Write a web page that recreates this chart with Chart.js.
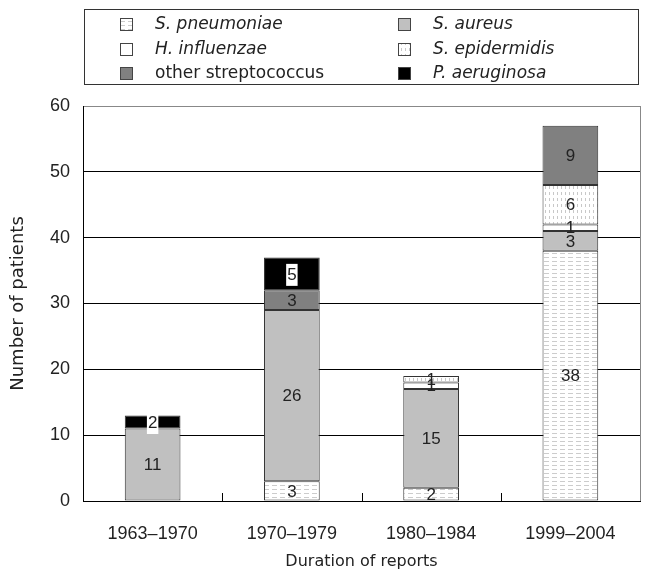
<!DOCTYPE html>
<html>
<head>
<meta charset="utf-8">
<script src="https://cdn.jsdelivr.net/npm/chart.js@4/dist/chart.umd.min.js"></script>
<style>
  html,body{margin:0;padding:0;background:#fff;}
  #wrap{width:648px;height:571px;position:relative;}
</style>
</head>
<body>
<div id="wrap"><canvas id="c" width="648" height="571"></canvas></div>
<script>
// ---- data ----
const categories = ['1963\u20131970', '1970\u20131979', '1980\u20131984', '1999\u20132004'];
const sPneumoniae = [0, 3, 2, 38];
const sAureus = [11, 26, 15, 3];
const hInfluenzae = [0, 0, 1, 1];
const sEpidermidis = [0, 0, 1, 6];
const otherStrep = [0, 3, 0, 9];
const pAeruginosa = [2, 5, 0, 0];
const seriesNames = ['S. pneumoniae', 'S. aureus', 'H. influenzae', 'S. epidermidis', 'other streptococcus', 'P. aeruginosa'];
const italicNames = [true, true, true, true, false, true];
const yTicks = [0, 10, 20, 30, 40, 50, 60];

// ---- patterns ----
function makePattern(w, h, draw) {
  const cv = document.createElement('canvas');
  cv.width = w; cv.height = h;
  const g = cv.getContext('2d');
  g.fillStyle = '#ffffff';
  g.fillRect(0, 0, w, h);
  draw(g);
  return g.createPattern(cv, 'repeat');
}
const ctx0 = document.getElementById('c').getContext('2d');
const hDash = makePattern(8, 4, g => { g.fillStyle = '#cccccc'; g.fillRect(0, 1, 5, 1); });
const vDash = makePattern(4, 6, g => { g.fillStyle = '#c8c8c8'; g.fillRect(1, 0, 1, 3); });

const seriesValues = [sPneumoniae, sAureus, hInfluenzae, sEpidermidis, otherStrep, pAeruginosa];
const seriesFill = [hDash, '#c0c0c0', '#ffffff', vDash, '#808080', '#000000'];

const TEXTFONT = "'DejaVu Sans', sans-serif";
const NUMFONT = "'Liberation Sans', Arial, sans-serif";

const datasets = seriesNames.map((n, i) => ({
  label: n,
  data: seriesValues[i],
  backgroundColor: seriesFill[i],
  borderColor: '#333333',
  borderWidth: 1,
  borderSkipped: false,
  categoryPercentage: 1.0,
  barPercentage: 0.4
}));

const legendPlugin = {
  id: 'boxLegend',
  afterDraw(chart) {
    const c = chart.ctx;
    c.save();
    c.strokeStyle = '#333';
    c.lineWidth = 1;
    c.strokeRect(84.5, 9.5, 554, 75);
    const colX = [120, 398];
    const textX = [155, 433];
    const rowY = [24, 49, 73];
    chart.data.datasets.forEach((ds, i) => {
      const col = i % 2, row = Math.floor(i / 2);
      const mx = colX[col], my = rowY[row];
      c.fillStyle = ds.backgroundColor;
      c.fillRect(mx, my - 6, 13, 13);
      c.strokeStyle = '#444';
      c.strokeRect(mx + 0.5, my - 5.5, 12, 12);
      c.fillStyle = '#222';
      c.font = (italicNames[i] ? 'oblique ' : '') + '17px ' + TEXTFONT;
      c.textBaseline = 'middle';
      c.textAlign = 'left';
      c.fillText(ds.label, textX[col], my + 1);
    });
    c.restore();
  }
};

const decoPlugin = {
  id: 'deco',
  afterDatasetsDraw(chart) {
    const c = chart.ctx;
    const a = chart.chartArea;
    const xs = chart.scales.x;
    c.save();
    // right border
    c.strokeStyle = '#888';
    c.lineWidth = 1;
    c.beginPath();
    c.moveTo(Math.round(a.right) + 0.5, a.top);
    c.lineTo(Math.round(a.right) + 0.5, a.bottom);
    c.stroke();
    // inner category ticks
    c.strokeStyle = '#000';
    for (let i = 0; i < categories.length - 1; i++) {
      const x = Math.round((xs.getPixelForValue(i) + xs.getPixelForValue(i + 1)) / 2) + 0.5;
      c.beginPath();
      c.moveTo(x, a.bottom);
      c.lineTo(x, a.bottom - 8);
      c.stroke();
    }
    // value labels
    c.font = '17px ' + NUMFONT;
    c.textAlign = 'center';
    c.textBaseline = 'middle';
    chart.data.datasets.forEach((ds, di) => {
      const meta = chart.getDatasetMeta(di);
      meta.data.forEach((el, j) => {
        const v = ds.data[j];
        if (!v) return;
        const cy = (el.y + el.base) / 2;
        const txt = String(v);
        if (di === 5) {
          const w = c.measureText(txt).width;
          c.fillStyle = '#fff';
          c.fillRect(el.x - w / 2 - 1, cy - 10, w + 2, 22);
        }
        c.fillStyle = '#222';
        c.fillText(txt, el.x, cy + 1);
      });
    });
    c.restore();
  }
};

new Chart(ctx0, {
  type: 'bar',
  data: { labels: categories, datasets },
  plugins: [legendPlugin, decoPlugin],
  options: {
    responsive: false,
    animation: false,
    devicePixelRatio: 1,
    layout: { padding: { top: 106, right: 8, left: 0, bottom: 0 } },
    plugins: { legend: { display: false }, tooltip: { enabled: false } },
    scales: {
      x: {
        stacked: true,
        grid: { display: false, drawTicks: false },
        border: { display: true, color: '#000', width: 1 },
        ticks: { color: '#222', font: { family: NUMFONT, size: 18 }, padding: 22 },
        title: { display: true, text: 'Duration of reports', color: '#222', font: { family: TEXTFONT, size: 16 }, padding: { top: 0, bottom: 0 } },
        afterFit(s) { s.height = 70; }
      },
      y: {
        stacked: true,
        min: 0, max: 60,
        afterBuildTicks(s) { s.ticks = yTicks.map(v => ({ value: v })); },
        grid: {
          color: c => (c.tick && c.tick.value === 60) ? '#888' : '#000',
          lineWidth: 1,
          drawTicks: false
        },
        border: { display: true, color: '#000', width: 1 },
        ticks: { color: '#222', font: { family: NUMFONT, size: 18 }, padding: 13 },
        title: { display: true, text: 'Number of patients', color: '#222', font: { family: TEXTFONT, size: 18 }, padding: { top: 8, bottom: 0 } },
        afterFit(s) { s.width = 83; }
      }
    }
  }
});
</script>
</body>
</html>
